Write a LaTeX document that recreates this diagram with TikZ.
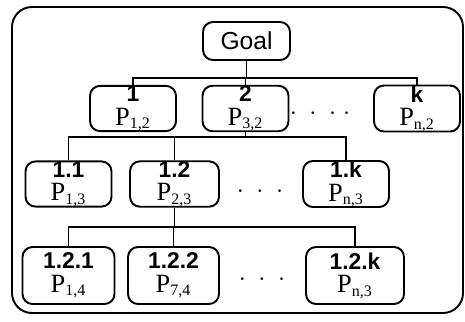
\documentclass[tikz,border=0pt]{standalone}
\usepackage{fontspec}
\setmainfont{Liberation Serif}
\setsansfont{Liberation Sans}
\tikzset{
    pbox/.style={draw,line width=1.1pt,rounded corners=0.2cm,inner sep=0pt,
        align=center,font=\fontsize{13}{13.5}\selectfont},
    lvl/.style={pbox,minimum width=1.72cm,minimum height=0.8cm},
    leaf/.style={pbox,minimum width=1.84cm,minimum height=1.14cm},
    link/.style={line width=1.1pt},
    gap/.style={font=\bfseries\fontsize{14}{14}\selectfont},
}
\newcommand{\num}[1]{\textsf{\bfseries #1}}
\newcommand{\pp}[1]{{\fontsize{15}{15}\selectfont P}\textsubscript{#1}}
\begin{document}
\begin{tikzpicture}[x=0.02cm,y=-0.02cm]
                \useasboundingbox (0,0) rectangle (465,321);
                %% frame
                \draw[line width=1.1pt,rounded corners=0.4cm] (12,7) rectangle (463,313);
                %% goal
                \node[pbox,minimum width=1.74cm,minimum height=0.76cm,font=\sffamily\fontsize{14}{15}\selectfont] (goal) at (246.5,41) {Goal};
                %% first level
                \node[lvl] (a1) at (133,108.5) {\num{1}\\\pp{1,2}};
                \node[lvl] (a2) at (245.5,108.5) {\num{2}\\\pp{3,2}};
                \node[lvl] (ak) at (417,108.5) {\num{k}\\\pp{n,2}};
                \node[gap] (adots) at (320,114) {$\cdot\;\cdot\;\cdot\;\cdot$};
                %% second level
                \node[lvl,minimum height=0.84cm] (b1) at (68.5,184) {\num{1.1}\\\pp{1,3}};
                \node[lvl,minimum height=0.84cm,minimum width=1.78cm] (b2) at (174.5,184) {\num{1.2}\\\pp{2,3}};
                \node[lvl,minimum height=0.84cm] (bk) at (346,184) {\num{1.k}\\\pp{n,3}};
                \node[gap] (bdots) at (260,192) {$\cdot\;\cdot\;\cdot$};
                %% third level
                \node[leaf] (c1) at (68.5,275.5) {\num{1.2.1}\\\pp{1,4}};
                \node[leaf,minimum width=1.82cm] (c2) at (173.5,275.5) {\num{1.2.2}\\\pp{7,4}};
                \node[leaf,minimum width=1.96cm] (ck) at (355,275.5) {\num{1.2.k}\\\pp{n,3}};
                \node[gap] (cdots) at (262,280) {$\cdot\;\cdot\;\cdot$};
                %% links
                \coordinate (bus1) at (0,78);
                \coordinate (bus2) at (0,137);
                \coordinate (bus3) at (0,227);
                \foreach \c in {a1,a2,ak}
                    \draw[link] (goal.south) -- (goal.south |- bus1) -| (\c.north);
                \foreach \c in {b1,b2,bk}
                    \draw[link] (a2.south) -- (a2.south |- bus2) -| (\c.north);
                \foreach \c in {c1,c2,ck}
                    \draw[link] (b2.south) -- (b2.south |- bus3) -| (\c.north);
            \end{tikzpicture}
\end{document}
